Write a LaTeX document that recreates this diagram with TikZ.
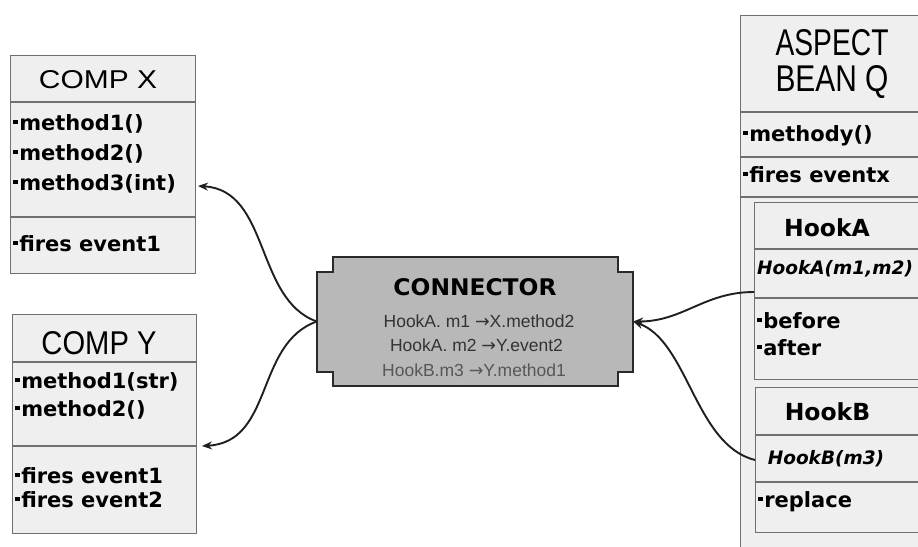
\documentclass[tikz,border=0pt]{standalone}
\usepackage{fontspec}
\usepackage{graphicx}
\usetikzlibrary{arrows.meta}
\newfontfamily\hand{DejaVu Sans}
\newfontfamily\plain{Liberation Sans}
\definecolor{boxfill}{HTML}{EFEFEF}
\definecolor{boxline}{HTML}{707070}
\definecolor{connfill}{HTML}{B8B8B8}
\definecolor{connline}{HTML}{2A2A2A}
\definecolor{maptext}{HTML}{333333}
\definecolor{maptextlight}{HTML}{575757}
% small square bullet in front of every entry
\newcommand\sqdot{\rule[0.3em]{0.25em}{0.22em}\hspace{0.04em}}
% mapping arrow, taken from a font with a full-width arrow
\newcommand\maparrow{{\hand →}}

\begin{document}
\begin{tikzpicture}[x=1pt,y=-1pt,
  box/.style={draw=boxline, fill=boxfill, line width=1.2pt, anchor=north west, inner sep=0pt},
  divider/.style={draw=boxline, line width=1.2pt},
  entry/.style={anchor=west, inner sep=0pt, text height=15pt, text depth=4pt,
    font=\hand\bfseries\fontsize{21}{24}\selectfont},
  boxtitle/.style={anchor=base, inner sep=0pt, font=\plain},
  hooktitle/.style={anchor=base, inner sep=0pt, font=\hand\bfseries\fontsize{23.5}{26}\selectfont},
  hooksig/.style={inner sep=0pt, text height=14pt, text depth=4pt,
    font=\hand\bfseries\itshape\fontsize{18.5}{22}\selectfont},
  maprow/.style={anchor=base, inner sep=0pt, font=\plain\fontsize{17.5}{20}\selectfont},
  connbody/.style={draw=connline, fill=connfill, line width=1.6pt},
  link/.style={draw=black!88, line width=1.9pt, -{Stealth[length=10pt,width=8pt]}},
]
\useasboundingbox (0,0) rectangle (918,546);
\fill[white] (0,0) rectangle (918,546);
\clip (0,0) rectangle (918,546);

% ---------- COMP X ----------
\node[box, minimum width=185pt, minimum height=218pt] (compx) at (10,55) {};
\draw[divider] (compx.west |- 0,102) -- (compx.east |- 0,102);
\draw[divider] (compx.west |- 0,217) -- (compx.east |- 0,217);
\node[boxtitle] (xtitle) at (98,88) {\resizebox{118pt}{18pt}{COMP X}};
\node[entry] (xm1) at (13,125) {\sqdot method1()};
\node[entry] (xm2) at (13,155) {\sqdot method2()};
\node[entry] (xm3) at (13,185) {\sqdot method3(int)};
\node[entry] (xe1) at (13,246) {\sqdot fires event1};

% ---------- COMP Y ----------
\node[box, minimum width=184pt, minimum height=219pt] (compy) at (12,314) {};
\draw[divider] (compy.west |- 0,362) -- (compy.east |- 0,362);
\draw[divider] (compy.west |- 0,446) -- (compy.east |- 0,446);
\node[boxtitle] (ytitle) at (99,354.5) {\resizebox{115pt}{23pt}{COMP Y}};
\node[entry] (ym1) at (15,383) {\sqdot method1(str)};
\node[entry] (ym2) at (15,411) {\sqdot method2()};
\node[entry] (ye1) at (15,478) {\sqdot fires event1};
\node[entry] (ye2) at (15,502) {\sqdot fires event2};

% ---------- ASPECT BEAN Q ----------
\node[box, minimum width=190pt, minimum height=545pt] (aspect) at (740,15) {};
\draw[divider] (aspect.west |- 0,112) -- (aspect.east |- 0,112);
\draw[divider] (aspect.west |- 0,157) -- (aspect.east |- 0,157);
\draw[divider] (aspect.west |- 0,197) -- (aspect.east |- 0,197);
\node[boxtitle] (qtitle1) at (832,56) {\resizebox{113pt}{26pt}{ASPECT}};
\node[boxtitle] (qtitle2) at (832,91) {\resizebox{113pt}{26pt}{BEAN Q}};
\node[entry] (qm) at (743,136) {\sqdot methody()};
\node[entry] (qe) at (743,177) {\sqdot fires eventx};

% HookA
\node[box, minimum width=175pt, minimum height=177pt] (hooka) at (754,202) {};
\draw[divider] (hooka.west |- 0,249) -- (hooka.east |- 0,249);
\draw[divider] (hooka.west |- 0,298) -- (hooka.east |- 0,298);
\node[hooktitle] (hatitle) at (827,236.5) {HookA};
\node[hooksig, anchor=west] (hasig) at (757,269) {HookA(m1,m2)};
\node[entry] (hab) at (757,323) {\sqdot before};
\node[entry] (haa) at (757,350) {\sqdot after};

% HookB
\node[box, minimum width=175pt, minimum height=145pt] (hookb) at (755,387) {};
\draw[divider] (hookb.west |- 0,435) -- (hookb.east |- 0,435);
\draw[divider] (hookb.west |- 0,482) -- (hookb.east |- 0,482);
\node[hooktitle] (hbtitle) at (827.5,420.5) {HookB};
\node[hooksig] (hbsig) at (826,459) {HookB(m3)};
\node[entry] (hbr) at (758,502) {\sqdot replace};

% ---------- CONNECTOR ----------
\node[inner sep=0pt, minimum width=316pt, minimum height=129pt] (conn) at (475,321.5) {};
\path[connbody] ([xshift=16pt]conn.north west) -- ++(285,0) -- ++(0,15) -- ++(15,0)
  -- ++(0,100) -- ++(-15,0) -- ++(0,14) -- ++(-285,0) -- ++(0,-14) -- ++(-16,0)
  -- ++(0,-100) -- ++(16,0) -- cycle;
\node[anchor=base, inner sep=0pt] (conntitle) at (475,295.5)
  {\resizebox{163pt}{17pt}{\hand\bfseries CONNECTOR}};
\node[maprow, text=maptext] (map1) at (479,327) {HookA. m1 \maparrow X.method2};
\node[maprow, text=maptext] (map2) at (476.5,351) {HookA. m2 \maparrow Y.event2};
\node[maprow, text=maptextlight] (map3) at (474,376) {HookB.m3 \maparrow Y.method1};

% ---------- links ----------
\coordinate (xin) at (198,186);
\coordinate (yin) at (202,446);
\coordinate (haout) at (754,292);
\coordinate (hbout) at (755,460);
\draw[link] (conn.west) .. controls +(-62,-22) and +(72,4) .. (xin);
\draw[link] (conn.west) .. controls +(-62,22) and +(72,-4) .. (yin);
\draw[link] (haout) .. controls +(-50,0) and +(50,0) .. (conn.east);
\draw[link] (hbout) .. controls +(-60,-15) and +(55,20) .. (conn.east);
\end{tikzpicture}
\end{document}
